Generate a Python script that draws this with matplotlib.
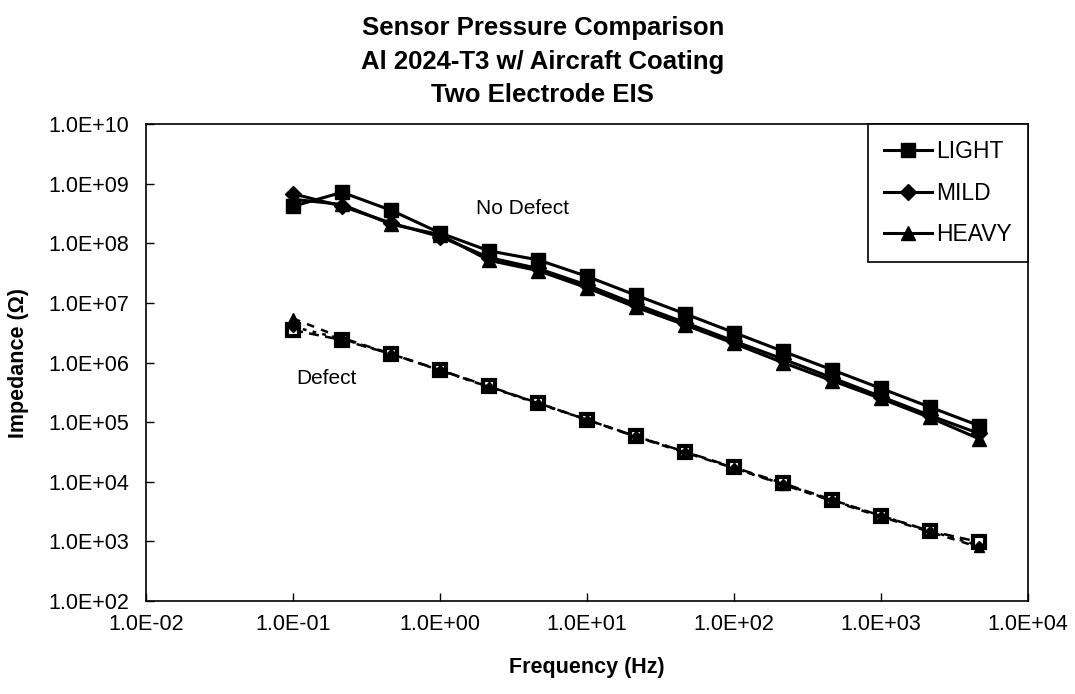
import matplotlib
matplotlib.use('Agg')
import matplotlib.pyplot as plt
from matplotlib.ticker import FixedLocator, FuncFormatter, NullLocator

plt.rcParams['font.family'] = ['Liberation Sans', 'DejaVu Sans']

# frequencies (Hz), three points per decade
freq = [0.1, 0.2154, 0.4642, 1.0, 2.154, 4.642, 10.0, 21.54, 46.42,
        100.0, 215.4, 464.2, 1000.0, 2154.0, 4642.0]

# impedance (ohm), no defect
light_nd = [4.2e8, 7.2e8, 3.6e8, 1.5e8, 7.5e7, 5.3e7, 2.8e7, 1.35e7, 6.6e6,
            3.2e6, 1.55e6, 7.6e5, 3.7e5, 1.8e5, 8.8e4]
mild_nd = [6.8e8, 4.2e8, 2.2e8, 1.3e8, 5.8e7, 3.8e7, 2.0e7, 9.5e6, 4.7e6,
           2.3e6, 1.15e6, 5.6e5, 2.7e5, 1.3e5, 6.5e4]
heavy_nd = [5.5e8, 4.5e8, 2.1e8, 1.4e8, 5.2e7, 3.5e7, 1.8e7, 8.5e6, 4.3e6,
            2.1e6, 1.0e6, 5.0e5, 2.5e5, 1.2e5, 5.3e4]

# impedance (ohm), defect
light_d = [3.5e6, 2.4e6, 1.4e6, 7.5e5, 4.0e5, 2.1e5, 1.1e5, 5.8e4, 3.2e4,
           1.75e4, 9.5e3, 5.0e3, 2.7e3, 1.5e3, 9.8e2]
mild_d = [4.0e6, 2.5e6, 1.4e6, 7.4e5, 3.9e5, 2.05e5, 1.1e5, 5.8e4, 3.2e4,
          1.7e4, 9.2e3, 4.9e3, 2.7e3, 1.5e3, 8.5e2]
heavy_d = [5.5e6, 2.6e6, 1.4e6, 7.5e5, 3.9e5, 2.1e5, 1.1e5, 5.7e4, 3.1e4,
           1.7e4, 9.0e3, 4.8e3, 2.6e3, 1.45e3, 8.0e2]

x_ticks = [1e-2, 1e-1, 1e0, 1e1, 1e2, 1e3, 1e4]
y_ticks = [1e2, 1e3, 1e4, 1e5, 1e6, 1e7, 1e8, 1e9, 1e10]

fig = plt.figure(figsize=(10.75, 6.94), dpi=100)
ax = fig.add_axes([0.136, 0.134, 0.820, 0.687])

# no defect curves (solid, filled markers)
ax.plot(freq, light_nd, '-', color='black', lw=2.2, marker='s', ms=9.5, label='LIGHT')
ax.plot(freq, mild_nd, '-', color='black', lw=2.2, marker='D', ms=8, label='MILD')
ax.plot(freq, heavy_nd, '-', color='black', lw=2.2, marker='^', ms=10, label='HEAVY')

# defect curves (broken lines)
ax.plot(freq, light_d, color='black', lw=1.8, ls=(0, (4, 2.5)), marker='s', ms=8.5,
        mfc='white', mec='black', mew=3)
ax.plot(freq, mild_d, color='black', lw=1.8, ls=(0, (1.5, 2.5)), marker='D', ms=5)
ax.plot(freq, heavy_d, color='black', lw=1.8, ls=(0, (3, 3)), marker='^', ms=6.5)

ax.set_xscale('log')
ax.set_yscale('log')
ax.set_xlim(1e-2, 1e4)
ax.set_ylim(1e2, 1e10)

sci = FuncFormatter(lambda v, pos: f'{v:.1E}')
ax.xaxis.set_major_locator(FixedLocator(x_ticks))
ax.yaxis.set_major_locator(FixedLocator(y_ticks))
ax.xaxis.set_minor_locator(NullLocator())
ax.yaxis.set_minor_locator(NullLocator())
ax.xaxis.set_major_formatter(sci)
ax.yaxis.set_major_formatter(sci)
ax.tick_params(axis='both', direction='in', length=6, width=1, labelsize=15.5)
ax.tick_params(axis='x', pad=9)
ax.tick_params(axis='y', pad=12)
for sp in ax.spines.values():
    sp.set_linewidth(1.2)

ax.set_xlabel('Frequency (Hz)', fontsize=15.5, fontweight='bold', labelpad=16)
ax.set_ylabel('Impedance (\u03a9)', fontsize=15.5, fontweight='bold', labelpad=14)

ax.text(1.75, 3.9e8, 'No Defect', fontsize=15, va='center', ha='left')
ax.text(0.105, 5.5e5, 'Defect', fontsize=15, va='center', ha='left')

leg = ax.legend(loc='upper right', borderaxespad=0, fontsize=16.5, frameon=True,
                fancybox=False, edgecolor='black', framealpha=1,
                handlelength=2.1, handletextpad=0.15, labelspacing=0.8,
                borderpad=0.7)
leg.get_frame().set_linewidth(1.2)

fig.text(0.505, 0.911, 'Sensor Pressure Comparison\nAl 2024-T3 w/ Aircraft Coating\nTwo Electrode EIS',
         ha='center', va='center', fontsize=18.5, fontweight='bold', linespacing=1.5)

plt.savefig('out.png', dpi=100)
